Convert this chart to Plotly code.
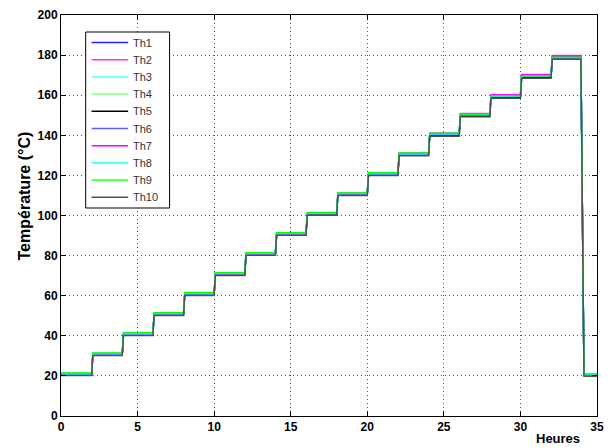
import plotly.graph_objects as go

# Plateau time windows (hours)
plateau_start = [0, 2.08, 4.08, 6.08, 8.08, 10.08, 12.08, 14.08, 16.08, 18.08, 20.08,
                 22.08, 24.08, 26.08, 28.08, 30.08, 32.08, 34.15]
plateau_end = [2, 4, 6, 8, 10, 12, 14, 16, 18, 20, 22, 24, 26, 28, 30, 32, 33.95, 35]

series_names = ["Th1", "Th2", "Th3", "Th4", "Th5", "Th6", "Th7", "Th8", "Th9", "Th10"]
series_colors = ["#2020FF", "#FF30FF", "#40FFFF", "#70FF70", "#000000",
                 "#6060FF", "#FF00FF", "#00FFFF", "#00FF00", "#505050"]

# Plateau temperatures (°C) read per sensor
th1 = [20.8, 30.9, 40.8, 50.8, 60.9, 70.8, 80.9, 90.8, 100.9, 110.8, 120.8, 130.8, 140.6, 150.3, 159.8, 169.7, 179.2, 20.4]
th2 = [21.0, 31.0, 41.0, 51.0, 61.0, 71.0, 81.1, 91.0, 101.1, 111.1, 121.2, 131.2, 141.1, 150.9, 160.3, 170.4, 179.8, 20.6]
th3 = [20.7, 30.8, 40.7, 50.7, 60.8, 70.7, 80.8, 90.7, 100.8, 110.7, 120.7, 130.6, 140.4, 150.1, 159.4, 169.3, 178.8, 20.3]
th4 = [21.3, 31.3, 41.3, 51.3, 61.3, 71.3, 81.3, 91.3, 101.2, 111.2, 121.1, 131.0, 140.8, 150.5, 159.7, 169.6, 178.9, 20.8]
th5 = [20.3, 30.3, 40.3, 50.2, 60.3, 70.2, 80.3, 90.2, 100.3, 110.2, 120.1, 130.0, 139.8, 149.5, 158.8, 168.7, 178.1, 20.0]
th6 = [20.6, 30.7, 40.6, 50.7, 60.7, 70.6, 80.6, 90.6, 100.7, 110.6, 120.6, 130.6, 140.4, 150.2, 159.6, 169.6, 179.4, 20.3]
th7 = [20.9, 30.9, 40.9, 50.9, 60.9, 70.9, 80.9, 90.9, 101.0, 111.0, 121.0, 131.0, 140.9, 150.7, 160.1, 170.1, 179.6, 20.5]
th8 = [20.9, 31.0, 41.0, 51.0, 61.0, 71.0, 81.0, 91.0, 101.0, 110.9, 120.9, 130.8, 140.6, 150.3, 159.5, 169.4, 178.7, 20.6]
th9 = [21.5, 31.5, 41.6, 51.5, 61.6, 71.5, 81.5, 91.4, 101.4, 111.3, 121.3, 131.2, 141.0, 150.6, 159.8, 169.7, 179.0, 21.0]
th10 = [20.2, 30.1, 40.1, 50.1, 60.1, 70.1, 80.1, 90.1, 100.1, 110.0, 119.9, 129.8, 139.5, 149.2, 158.5, 168.4, 177.9, 19.9]
series_values = [th1, th2, th3, th4, th5, th6, th7, th8, th9, th10]

x_ticks = [0, 5, 10, 15, 20, 25, 30, 35]
y_ticks = [0, 20, 40, 60, 80, 100, 120, 140, 160, 180, 200]

W, H = 612, 448
ML, MR, MT, MB = 61, 8, 15, 32
PW, PH = W - ML - MR, H - MT - MB


def px(x):
    return (x - ML) / PW


def py(y):
    return (H - MB - y) / PH


fig = go.Figure()
for name, color, vals in zip(series_names, series_colors, series_values):
    xs, ys = [], []
    for s, e, v in zip(plateau_start, plateau_end, vals):
        xs += [s, e]
        ys += [v, v]
    fig.add_trace(go.Scatter(x=xs, y=ys, mode="lines", name=name,
                             line=dict(color=color, width=1.4), showlegend=False))

sans = "Liberation Sans, Arial, sans-serif"
tick_font = dict(family=sans, size=12, color="black", weight="bold")

axis_common = dict(showline=True, linecolor="black", linewidth=1, mirror="ticks",
                   ticks="inside", ticklen=5, tickcolor="black",
                   showgrid=True, gridcolor="#555555", gridwidth=1, griddash="1px,3px",
                   zeroline=False, tickfont=tick_font, ticklabeloverflow="allow")

fig.update_xaxes(range=[0, 35], tickvals=x_ticks, **axis_common)
fig.update_yaxes(range=[0, 200], tickvals=y_ticks, **axis_common)

# Legend box drawn in MATLAB style
shapes = [dict(type="rect", xref="paper", yref="paper",
               x0=px(86), x1=px(171), y0=py(208), y1=py(32),
               fillcolor="white", line=dict(color="black", width=1), layer="above")]
annotations = []
for i, (name, color) in enumerate(zip(series_names, series_colors)):
    yy = 42.5 + 17.2 * i
    shapes.append(dict(type="line", xref="paper", yref="paper",
                       x0=px(92), x1=px(129), y0=py(yy), y1=py(yy),
                       line=dict(color=color, width=1.4), layer="above"))
    annotations.append(dict(text=name, xref="paper", yref="paper", x=px(132), y=py(yy),
                            xanchor="left", yanchor="middle", showarrow=False,
                            font=dict(family=sans, size=11, color="#333333")))

annotations += [
    dict(text="Température (°C)", xref="paper", yref="paper",
         x=px(24), y=py(196), textangle=-90, showarrow=False,
         xanchor="center", yanchor="middle",
         font=dict(family=sans, size=16, color="black", weight="bold")),
    dict(text="Heures", xref="paper", yref="paper",
         x=px(564), y=py(448), showarrow=False, xanchor="center", yanchor="bottom",
         font=dict(family=sans, size=13, color="black", weight="bold")),
]

fig.update_layout(
    width=W, height=H,
    margin=dict(l=ML, r=MR, t=MT, b=MB),
    paper_bgcolor="white", plot_bgcolor="white",
    showlegend=False,
    shapes=shapes,
    annotations=annotations,
)

fig.write_html("out.html", config={"displayModeBar": False},
               post_script="document.body.style.margin='0';document.body.style.overflow='hidden';")
